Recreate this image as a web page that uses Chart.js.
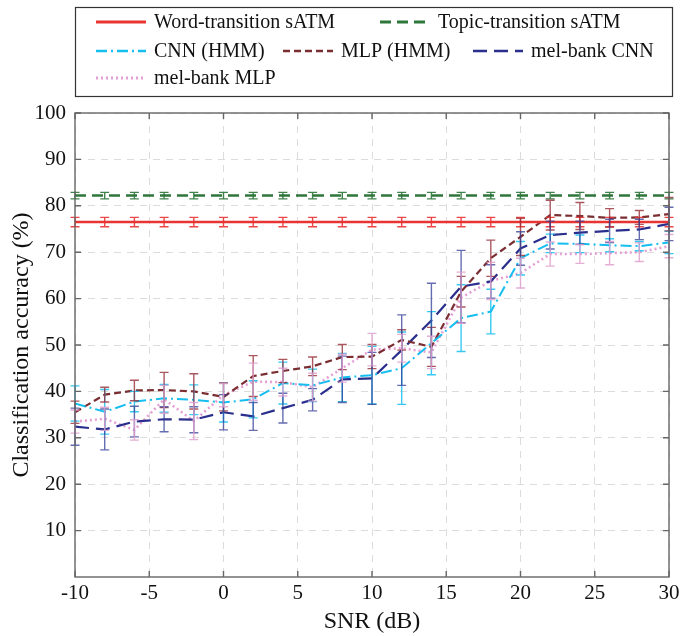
<!DOCTYPE html>
<html>
<head>
<meta charset="utf-8">
<script src="https://cdn.jsdelivr.net/npm/chart.js@4.4.1/dist/chart.umd.min.js"></script>
<style>
  html, body { margin: 0; padding: 0; background: #fff; }
  #wrap { width: 684px; height: 636px; }
</style>
</head>
<body>
<div id="wrap"><canvas id="accChart" width="684" height="636"></canvas></div>
<script>
// SNR levels (dB)
const snr = [-10, -8, -6, -4, -2, 0, 2, 4, 6, 8, 10, 12, 14, 16, 18, 20, 22, 24, 26, 28, 30];

// accuracy (%) and error (+/-) per SNR level
const wordSatm = [76.5, 76.5, 76.5, 76.5, 76.5, 76.5, 76.5, 76.5, 76.5, 76.5, 76.5, 76.5, 76.5, 76.5, 76.5, 76.5, 76.5, 76.5, 76.5, 76.5, 76.5];
const wordSatmErr = [1.0, 1.0, 1.0, 1.0, 1.0, 1.0, 1.0, 1.0, 1.0, 1.0, 1.0, 1.0, 1.0, 1.0, 1.0, 1.0, 1.0, 1.0, 1.0, 1.0, 1.0];
const topicSatm = [82.2, 82.2, 82.2, 82.2, 82.2, 82.2, 82.2, 82.2, 82.2, 82.2, 82.2, 82.2, 82.2, 82.2, 82.2, 82.2, 82.2, 82.2, 82.2, 82.2, 82.2];
const topicSatmErr = [0.7, 0.7, 0.7, 0.7, 0.7, 0.7, 0.7, 0.7, 0.7, 0.7, 0.7, 0.7, 0.7, 0.7, 0.7, 0.7, 0.7, 0.7, 0.7, 0.7, 0.7];
const cnnHmm = [37.4, 35.6, 37.8, 38.5, 38.2, 37.6, 38.3, 41.8, 41.3, 43.0, 43.5, 45.0, 50.4, 55.8, 57.2, 68.7, 71.9, 71.8, 71.5, 71.3, 72.1];
const cnnHmmErr = [3.8, 4.8, 2.2, 3.0, 3.2, 4.2, 4.0, 4.5, 3.5, 5.2, 6.2, 7.8, 6.8, 7.2, 4.8, 3.6, 2.0, 1.9, 1.4, 1.0, 2.4];
const mlpHmm = [35.5, 39.3, 40.2, 40.3, 40.0, 38.8, 43.3, 44.4, 45.4, 47.4, 47.5, 51.1, 49.6, 61.5, 68.7, 73.3, 78.0, 77.8, 77.4, 77.5, 78.2];
const mlpHmmErr = [2.4, 1.6, 2.2, 3.8, 3.8, 3.0, 4.4, 2.5, 2.0, 2.7, 2.6, 2.2, 4.2, 3.3, 3.9, 4.0, 3.2, 2.9, 2.0, 1.5, 3.6];
const melCnn = [32.4, 31.8, 33.5, 34.0, 33.9, 35.5, 34.6, 36.4, 38.2, 42.6, 42.8, 48.9, 55.3, 62.6, 63.7, 70.8, 73.7, 74.2, 74.6, 74.9, 76.1];
const melCnnErr = [4.0, 4.4, 3.3, 2.7, 2.8, 3.8, 3.0, 3.2, 2.4, 5.0, 5.6, 7.6, 8.0, 7.8, 3.6, 3.6, 3.0, 2.5, 2.5, 2.2, 3.6];
const melMlp = [33.5, 34.1, 31.7, 38.3, 33.6, 39.2, 42.1, 42.0, 40.9, 45.0, 49.0, 49.3, 48.4, 60.2, 63.8, 65.5, 69.6, 69.6, 69.8, 70.0, 71.3];
const melMlpErr = [2.5, 2.5, 2.2, 3.0, 4.0, 2.5, 4.0, 3.0, 3.0, 3.0, 3.5, 3.0, 3.5, 5.5, 4.0, 3.2, 2.6, 2.0, 2.5, 2.0, 2.5];

// axis ticks
const xTicks = [-10, -5, 0, 5, 10, 15, 20, 25, 30];
const yTicks = [10, 20, 30, 40, 50, 60, 70, 80, 90, 100];

const serif = '"Liberation Serif", "Times New Roman", serif';

function pts(vals) {
    return snr.map((s, i) => ({ x: s, y: vals[i] }));
}

function series(label, vals, errs, color, errColor, dash, width) {
    return {
        label: label,
        data: pts(vals),
        errors: errs,
        errColor: errColor,
        borderColor: color,
        backgroundColor: color,
        borderDash: dash,
        borderWidth: width,
        pointRadius: 0,
        tension: 0,
        fill: false
    };
}

// vertical error bars with caps, through the y scale
const errorBars = {
    id: 'errorBars',
    afterDatasetsDraw(chart) {
        const ctx = chart.ctx;
        const y = chart.scales.y;
        ctx.save();
        ctx.setLineDash([]);
        ctx.lineWidth = 1.4;
        chart.data.datasets.forEach((ds, i) => {
            const meta = chart.getDatasetMeta(i);
            ctx.strokeStyle = ds.errColor;
            meta.data.forEach((pt, j) => {
                const v = ds.data[j].y, e = ds.errors[j];
                const top = y.getPixelForValue(v + e);
                const bot = y.getPixelForValue(v - e);
                ctx.beginPath();
                ctx.moveTo(pt.x, top); ctx.lineTo(pt.x, bot);
                ctx.moveTo(pt.x - 4.5, top); ctx.lineTo(pt.x + 4.5, top);
                ctx.moveTo(pt.x - 4.5, bot); ctx.lineTo(pt.x + 4.5, bot);
                ctx.stroke();
            });
        });
        ctx.restore();
    }
};

// axes box with inward tick marks
const axesBox = {
    id: 'axesBox',
    afterDraw(chart) {
        const { ctx, chartArea: a, scales } = chart;
        ctx.save();
        ctx.setLineDash([]);
        ctx.strokeStyle = '#666';
        ctx.lineWidth = 1.4;
        ctx.strokeRect(a.left, a.top, a.right - a.left, a.bottom - a.top);
        ctx.beginPath();
        yTicks.forEach(v => {
            const py = scales.y.getPixelForValue(v);
            ctx.moveTo(a.left, py); ctx.lineTo(a.left + 6, py);
            ctx.moveTo(a.right, py); ctx.lineTo(a.right - 6, py);
        });
        xTicks.forEach(v => {
            const px = scales.x.getPixelForValue(v);
            ctx.moveTo(px, a.bottom); ctx.lineTo(px, a.bottom - 6);
            ctx.moveTo(px, a.top); ctx.lineTo(px, a.top + 6);
        });
        ctx.stroke();
        ctx.restore();
    }
};

// boxed legend above the axes, three columns
const boxLegend = {
    id: 'boxLegend',
    afterDraw(chart) {
        const ctx = chart.ctx;
        const ds = chart.data.datasets;
        const slots = [
            [0, 96, 22], [1, 380, 22],
            [2, 96, 51], [3, 283, 51], [4, 473, 51],
            [5, 96, 78]
        ];
        ctx.save();
        ctx.fillStyle = '#fff';
        ctx.fillRect(75, 7, 597, 89);
        ctx.strokeStyle = '#333';
        ctx.lineWidth = 1.2;
        ctx.setLineDash([]);
        ctx.strokeRect(75.5, 7.5, 597, 89);
        ctx.font = '20px ' + serif;
        ctx.textBaseline = 'middle';
        ctx.fillStyle = '#111';
        slots.forEach(([i, x, y]) => {
            const d = ds[i];
            ctx.strokeStyle = d.borderColor;
            ctx.lineWidth = d.borderWidth + 0.5;
            ctx.setLineDash(d.borderDash);
            ctx.beginPath();
            ctx.moveTo(x, y); ctx.lineTo(x + 50, y);
            ctx.stroke();
            ctx.fillText(d.label, x + 58, y + 1);
        });
        ctx.restore();
    }
};

const ctx = document.getElementById('accChart').getContext('2d');
const accChart = new Chart(ctx, {
    type: 'line',
    data: {
        datasets: [
            series('Word-transition sATM', wordSatm, wordSatmErr, 'rgb(232,52,50)', 'rgba(232,52,50,0.9)', [], 2.5),
            series('Topic-transition sATM', topicSatm, topicSatmErr, 'rgb(46,118,58)', 'rgba(46,118,58,0.9)', [11, 6], 2.5),
            series('CNN (HMM)', cnnHmm, cnnHmmErr, 'rgb(22,190,240)', 'rgba(22,190,240,0.85)', [11, 4, 2, 4], 2),
            series('MLP (HMM)', mlpHmm, mlpHmmErr, 'rgb(122,46,50)', 'rgba(150,45,55,0.8)', [7, 4], 2.2),
            series('mel-bank CNN', melCnn, melCnnErr, 'rgb(42,46,140)', 'rgba(50,60,150,0.75)', [14, 7], 2.2),
            series('mel-bank MLP', melMlp, melMlpErr, 'rgb(228,160,212)', 'rgba(225,160,205,0.85)', [2, 3], 2.6)
        ]
    },
    options: {
        responsive: false,
        animation: false,
        layout: { padding: { top: 113, right: 15, left: 0, bottom: 0 } },
        plugins: {
            legend: { display: false },
            tooltip: { enabled: false }
        },
        scales: {
            x: {
                type: 'linear',
                min: -10,
                max: 30,
                afterBuildTicks: s => { s.ticks = xTicks.map(v => ({ value: v })); },
                afterFit: s => { s.height = 59; },
                grid: { color: '#dcdcdc', lineWidth: 1, drawTicks: false },
                border: { display: false, dash: [7, 6] },
                ticks: {
                    color: '#111',
                    padding: 4,
                    maxRotation: 0,
                    font: { family: serif, size: 21 },
                    callback: v => String(v)
                },
                title: {
                    display: true,
                    text: 'SNR (dB)',
                    color: '#111',
                    font: { family: serif, size: 24 },
                    padding: { top: 0, bottom: 0 }
                }
            },
            y: {
                min: 0,
                max: 100,
                afterBuildTicks: s => { s.ticks = yTicks.map(v => ({ value: v })); },
                afterFit: s => { s.width = 75; },
                grid: { color: '#dcdcdc', lineWidth: 1, drawTicks: false },
                border: { display: false, dash: [7, 6] },
                ticks: {
                    color: '#111',
                    padding: 9,
                    font: { family: serif, size: 21 },
                    callback: v => String(v)
                },
                title: {
                    display: true,
                    text: 'Classification accuracy (%)',
                    color: '#111',
                    font: { family: serif, size: 24 },
                    padding: { top: 7, bottom: 0 }
                }
            }
        }
    },
    plugins: [errorBars, axesBox, boxLegend]
});
</script>
</body>
</html>
